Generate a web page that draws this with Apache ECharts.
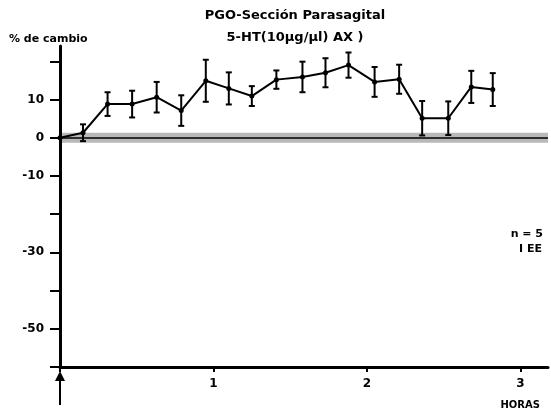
<!DOCTYPE html>
<html>
   <head>
      <meta charset="utf-8">
      <script type="text/javascript" src="https://cdn.jsdelivr.net/npm/echarts@6/dist/echarts.min.js"></script>
      <title>PGO-Sección Parasagital</title>
   </head>
   <body style="margin:0">
      <div id="chart" style="width:551px;height:410px"></div>
      <script type="text/javascript">
         // horas desde la inyeccion
         var horas = [0, 0.15, 0.31, 0.47, 0.63, 0.79, 0.95, 1.10, 1.25, 1.41, 1.58, 1.73, 1.88, 2.05, 2.21, 2.36, 2.53, 2.68, 2.82];
         // % de cambio
         var cambio = [0, 1.3, 8.8, 8.8, 10.6, 7.1, 14.9, 12.9, 10.9, 15.2, 15.9, 17.0, 19.0, 14.6, 15.3, 5.1, 5.1, 13.3, 12.6];
         // error estandar (EE)
         var ee = [0, 2.2, 3.1, 3.5, 4.0, 4.0, 5.5, 4.2, 2.6, 2.4, 4.0, 3.8, 3.3, 3.9, 3.8, 4.5, 4.4, 4.2, 4.3];
         var yEtiquetas = [10, 0, -10, -30, -50];
         var xEtiquetas = [1, 2, 3];

         var font = "DejaVu Sans";
         var linea = [], barras = [];
         for (var i = 0; i < horas.length; ++i){
            linea.push([horas[i], cambio[i]]);
            if (ee[i] > 0) barras.push([horas[i], cambio[i] - ee[i], cambio[i] + ee[i]]);
         }

         function renderBar(params, api){
            var x = api.value(0);
            var lo = api.coord([x, api.value(1)]);
            var hi = api.coord([x, api.value(2)]);
            var w = 3;
            var st = {stroke: "#000", lineWidth: 2};
            return {
               type: "group",
               children: [
                  {type: "line", shape: {x1: lo[0], y1: lo[1], x2: hi[0], y2: hi[1]}, style: st},
                  {type: "line", shape: {x1: lo[0] - w, y1: lo[1], x2: lo[0] + w, y2: lo[1]}, style: st},
                  {type: "line", shape: {x1: hi[0] - w, y1: hi[1], x2: hi[0] + w, y2: hi[1]}, style: st}
               ]
            };
         }

         var bold = {fontSize: 11, fontWeight: "bold", color: "#000", fontFamily: font};
         var option = {
            animation: false,
            backgroundColor: "#fff",
            textStyle: {fontFamily: font},
            title: [
               {text: "PGO-Sección Parasagital\n5-HT(10µg/µl) AX )", left: 290, top: 0, textAlign: "center",
                textStyle: {fontSize: 13, fontWeight: "bold", color: "#000", lineHeight: 22, fontFamily: font}},
               {text: "% de cambio", left: 4, top: 29, textStyle: bold},
               {text: "n = 5", right: 3, top: 224, textStyle: bold},
               {text: "I EE", right: 4, top: 239, textStyle: bold},
               {text: "HORAS", right: 6, top: 395,
                textStyle: {fontSize: 10, fontWeight: "bold", color: "#000", fontFamily: font}}
            ],
            grid: {left: 60, right: 3, top: 46, bottom: 43},
            xAxis: {
               type: "value", min: 0, max: 3.18, interval: 1,
               axisLine: {onZero: false, lineStyle: {color: "#000", width: 3}},
               axisTick: {show: true, length: 5, lineStyle: {color: "#000", width: 2}},
               axisLabel: {
                  color: "#000", fontWeight: "bold", fontSize: 12, margin: 11, showMaxLabel: false,
                  formatter: function(v){ return xEtiquetas.indexOf(v) >= 0 ? String(v) : ""; }
               },
               splitLine: {show: false}
            },
            yAxis: {
               type: "value", min: -60, max: 24, interval: 10,
               axisLine: {show: true, onZero: false, lineStyle: {color: "#000", width: 3}},
               axisTick: {show: true, length: 10, lineStyle: {color: "#000", width: 2}},
               axisLabel: {
                  color: "#000", fontWeight: "bold", fontSize: 12, margin: 16, showMaxLabel: false,
                  formatter: function(v){ return yEtiquetas.indexOf(v) >= 0 ? String(v) : ""; }
               },
               splitLine: {show: false}
            },
            graphic: [
               {type: "line", shape: {x1: 60, y1: 376, x2: 60, y2: 405}, style: {stroke: "#000", lineWidth: 2}},
               {type: "polygon", shape: {points: [[55, 381], [65, 381], [60, 371]]}, style: {fill: "#000"}}
            ],
            series: [
               {
                  type: "line",
                  data: linea,
                  symbol: "circle",
                  symbolSize: 5,
                  itemStyle: {color: "#000"},
                  lineStyle: {color: "#000", width: 2},
                  z: 5,
                  markArea: {
                     silent: true,
                     itemStyle: {color: "rgba(0,0,0,0.28)"},
                     data: [[{yAxis: -1.3}, {yAxis: 1.3}]]
                  },
                  markLine: {
                     silent: true, symbol: "none", label: {show: false},
                     lineStyle: {color: "#000", width: 1.5, type: "solid"},
                     data: [{yAxis: 0}]
                  }
               },
               {
                  type: "custom",
                  renderItem: renderBar,
                  data: barras,
                  encode: {x: 0, y: [1, 2]},
                  z: 6
               }
            ]
         };
         var myChart = echarts.init(document.getElementById("chart"));
         myChart.setOption(option);
      </script>
   </body>
</html>
